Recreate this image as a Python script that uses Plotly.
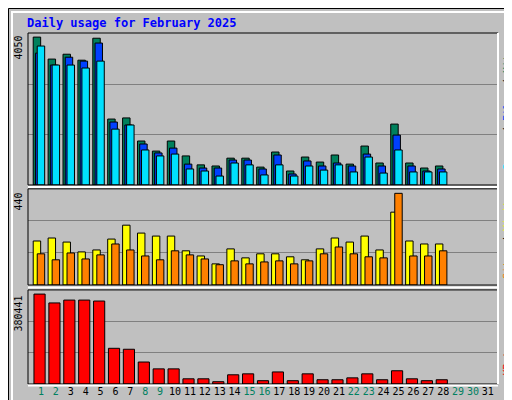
import plotly.graph_objects as go

days = list(range(1, 32))
data_days = list(range(1, 29))
weekend_days = [1, 2, 8, 9, 15, 16, 22, 23, 29, 30]

hits = [3970, 3380, 3510, 3350, 3940, 1770, 1800, 1180, 910, 1180, 780, 540, 510, 720,
        720, 480, 885, 375, 750, 615, 805, 560, 1045, 590, 1635, 590, 455, 510]
files = [3540, 3220, 3430, 3325, 3810, 1690, 1610, 1100, 860, 990, 560, 455, 455, 670,
         670, 430, 805, 295, 645, 510, 590, 510, 830, 510, 1340, 510, 375, 430]
pages = [3730, 3220, 3220, 3140, 3325, 1500, 1610, 940, 780, 830, 430, 375, 240, 590,
         540, 270, 540, 240, 510, 400, 540, 350, 750, 320, 940, 350, 350, 350]
visits = [206, 220, 201, 155, 164, 215, 280, 243, 229, 229, 160, 136, 99, 169,
          127, 146, 146, 132, 118, 169, 220, 201, 229, 164, 341, 206, 192, 192]
sites = [146, 118, 150, 122, 141, 192, 164, 136, 118, 160, 141, 122, 95, 113,
         99, 108, 113, 99, 113, 146, 178, 146, 132, 127, 429, 136, 136, 160]
kbytes = [380441, 343000, 355000, 355000, 351000, 151000, 147000, 93000, 64000, 64000,
          22000, 22000, 9700, 39000, 43000, 14000, 51000, 14000, 43000, 18000,
          18000, 26000, 43000, 18000, 56000, 22000, 14000, 18000]

MONO = "DejaVu Sans Mono"
GREEN, BLUE, CYAN = "#00805C", "#0040FF", "#00E0FF"
YELLOW, ORANGE, RED = "#FFFF00", "#FF8000", "#FF0000"

fig = go.Figure()


def bars(y, color, offset, width, yaxis):
    fig.add_trace(go.Bar(
        x=data_days, y=y, offset=offset, width=width, yaxis=yaxis, xaxis="x",
        marker=dict(color=color, line=dict(color="black", width=1)),
    ))


bars(hits, GREEN, -0.52, 0.5, "y")
bars(files, BLUE, -0.37, 0.5, "y")
bars(pages, CYAN, -0.25, 0.5, "y")
bars(visits, YELLOW, -0.52, 0.5, "y2")
bars(sites, ORANGE, -0.25, 0.5, "y2")
bars(kbytes, RED, -0.47, 0.75, "y3")

ticktext = [f"<span style='color:{'#008060' if d in weekend_days else 'black'}'>{d}</span>"
            for d in days]

top_max, mid_max, bot_max = 4080, 450, 398000
grid = dict(showgrid=True, gridcolor="#808080", gridwidth=1, showticklabels=False,
            zeroline=False, ticks="", showline=False)

fig.update_layout(
    width=512, height=400, barmode="overlay", showlegend=False,
    paper_bgcolor="#C0C0C0", plot_bgcolor="#C0C0C0",
    margin=dict(l=20, r=22, t=25, b=24),
    font=dict(family=MONO, size=10, color="black"),
    xaxis=dict(range=[0.13, 31.68], tickvals=days, ticktext=ticktext, showgrid=False,
               zeroline=False, ticks="", anchor="y3", tickangle=0,
               tickfont=dict(size=10, family=MONO)),
    yaxis=dict(domain=[0.567, 1], range=[0, top_max], tickvals=[1350, 2700], **grid),
    yaxis2=dict(domain=[0.282, 0.556], range=[0, mid_max], tickvals=[150, 300], **grid),
    yaxis3=dict(domain=[0, 0.268], range=[0, bot_max],
                tickvals=[bot_max / 3, 2 * bot_max / 3], **grid),
    title=dict(text="Daily usage for February 2025", x=19 / 512, xanchor="left",
               y=1 - 15 / 400, yanchor="middle",
               font=dict(family=MONO, size=12, color="#0000FF", weight="bold")),
)

# panel frames
for d in [(0.567, 1), (0.282, 0.556), (0, 0.268)]:
    fig.add_shape(type="rect", xref="paper", yref="paper", x0=0, x1=1, y0=d[0], y1=d[1],
                  line=dict(color="black", width=1), layer="above")
for yv in [0.5615, 0.275]:
    fig.add_shape(type="line", xref="paper", yref="paper", x0=0, x1=1, y0=yv, y1=yv,
                  line=dict(color="white", width=2))
fig.add_shape(type="line", xref="paper", yref="paper", x0=1, x1=1, y0=0, y1=1,
              line=dict(color="white", width=2))
fig.add_shape(type="line", xref="paper", yref="paper", x0=0, x1=1, y0=-0.004, y1=-0.004,
              line=dict(color="white", width=2))

# outer bevel border
px = lambda v: (v - 20) / 470
py = lambda v: (376 - v) / 351
fig.add_shape(type="rect", xref="paper", yref="paper", x0=px(506), x1=px(512),
              y0=py(400), y1=py(5), fillcolor="#808080", line_width=0)
fig.add_shape(type="rect", xref="paper", yref="paper", x0=px(5), x1=px(512),
              y0=py(400), y1=py(394), fillcolor="#808080", line_width=0)
fig.add_shape(type="rect", xref="paper", yref="paper", x0=px(0.5), x1=px(511.5),
              y0=py(399.5), y1=py(0.5), line=dict(color="black", width=1))
fig.add_shape(type="path", xref="paper", yref="paper",
              path=f"M {px(4)} {py(394)} L {px(4)} {py(4)} L {px(506)} {py(4)}",
              line=dict(color="white", width=2))

# max value labels
for yref, val, text in [("y", 4050, "4050"), ("y2", 440, "440"), ("y3", 380441, "380441")]:
    fig.add_annotation(xref="paper", yref=yref, x=-2 / 470, y=val, text=text,
                       textangle=-90, xanchor="right", yanchor="top", showarrow=False,
                       font=dict(family=MONO, size=10))

sl = "<span style='color:black'>/</span>"
side = [
    ((0.567 + 1) / 2, f"<span style='color:{CYAN}'>Pages</span> {sl} "
                      f"<span style='color:{BLUE}'>Files</span> {sl} "
                      f"<span style='color:{GREEN}'>Hits</span>"),
    (0.42, f"<span style='color:{ORANGE}'>Sites</span> {sl} "
           f"<span style='color:{YELLOW}'>Visits</span>"),
    (0.02, f"<span style='color:{RED}'>KBytes</span>"),
]
for i, (yv, text) in enumerate(side):
    fig.add_annotation(xref="paper", yref="paper", x=1 + 2 / 470, y=yv, text=text,
                       textangle=-90, xanchor="left",
                       yanchor="bottom" if i == 2 else "middle",
                       showarrow=False, font=dict(family=MONO, size=10))

fig.write_html("out.html")
